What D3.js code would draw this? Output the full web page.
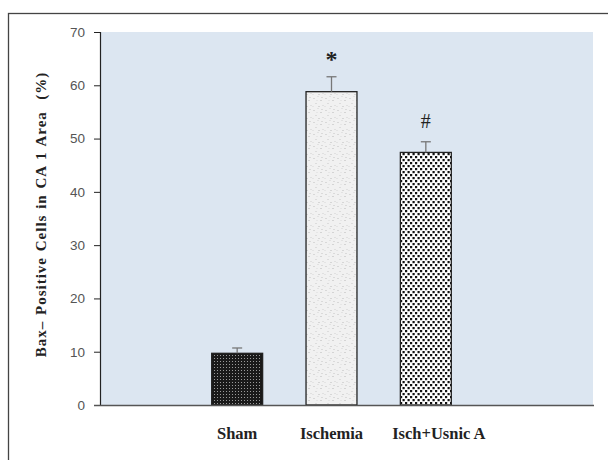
<!DOCTYPE html>
<html><head><meta charset="utf-8">
<script src="https://cdn.jsdelivr.net/npm/d3@7/dist/d3.min.js"></script>
<style>body{margin:0;background:#fff}svg{display:block}</style>
</head><body>
<div id="chart"></div>
<script>
const categories = ["Sham", "Ischemia", "Isch+Usnic A"];
const values = [9.7, 58.8, 47.4];
const errors = [1.0, 2.8, 2.0];
const marks = ["", "*", "#"];
const yTicks = [0, 10, 20, 30, 40, 50, 60, 70];
const yLabel = "Bax\u2013 Positive Cells in CA 1 Area  (%)";

const W = 608, H = 460;
const svg = d3.select("#chart").append("svg").attr("width", W).attr("height", H);
const defs = svg.append("defs");

// Sham: dark with light dot grid
const p1 = defs.append("pattern").attr("id", "pSham").attr("patternUnits", "userSpaceOnUse")
  .attr("width", 3).attr("height", 3);
p1.append("rect").attr("width", 3).attr("height", 3).attr("fill", "#1a1a1a");
p1.append("rect").attr("x", 1).attr("y", 1).attr("width", 1).attr("height", 1).attr("fill", "#9a9a9a");

// Ischemia: light speckled grey
const p2 = defs.append("pattern").attr("id", "pIsch").attr("patternUnits", "userSpaceOnUse")
  .attr("width", 12).attr("height", 12);
p2.append("rect").attr("width", 12).attr("height", 12).attr("fill", "#f1f1f1");
[[1,2,"#d8d8d8"],[5,0,"#e2e2e2"],[8,4,"#d4d4d4"],[3,7,"#dcdcdc"],[10,9,"#e0e0e0"],[6,10,"#d6d6d6"],[0,10,"#e4e4e4"],[9,1,"#dadada"],[4,4,"#e6e6e6"]]
  .forEach(([x,y,c]) => p2.append("rect").attr("x", x).attr("y", y).attr("width", 2).attr("height", 1).attr("fill", c));

// Isch+Usnic: white with staggered black dots
const p3 = defs.append("pattern").attr("id", "pUsn").attr("patternUnits", "userSpaceOnUse")
  .attr("width", 5).attr("height", 6);
p3.append("rect").attr("width", 5).attr("height", 6).attr("fill", "#ffffff");
[[0,0],[2.5,3],[-2.5,3]].forEach(([x,y]) => p3.append("rect").attr("x", x).attr("y", y).attr("width", 2.2).attr("height", 2.2).attr("fill", "#111"));

const fills = ["url(#pSham)", "url(#pIsch)", "url(#pUsn)"];

// outer frame
svg.append("rect").attr("x", 8.5).attr("y", 13.5).attr("width", 620).attr("height", 470)
  .attr("fill", "none").attr("stroke", "#444").attr("stroke-width", 1.3);

const plot = {left: 100, right: 593, top: 32, bottom: 405};

svg.append("rect").attr("x", plot.left).attr("y", plot.top)
  .attr("width", plot.right - plot.left).attr("height", plot.bottom - plot.top)
  .attr("fill", "#dce6f1");

const y = d3.scaleLinear().domain([0, 70]).range([plot.bottom, plot.top]);
const x = d3.scaleBand().domain(categories).range([190, 473]).paddingInner(0.46).paddingOuter(0.23);

// bars
svg.selectAll("rect.bar").data(categories).enter().append("rect").attr("class", "bar")
  .attr("x", d => x(d)).attr("width", x.bandwidth())
  .attr("y", (d, i) => y(values[i])).attr("height", (d, i) => y(0) - y(values[i]))
  .attr("fill", (d, i) => fills[i]).attr("stroke", "#222").attr("stroke-width", 1.3);

// error bars
const eb = svg.append("g").attr("stroke", "#777").attr("stroke-width", 1.3);
categories.forEach((c, i) => {
  const cx = x(c) + x.bandwidth() / 2;
  eb.append("line").attr("x1", cx).attr("x2", cx).attr("y1", y(values[i])).attr("y2", y(values[i] + errors[i]));
  eb.append("line").attr("x1", cx - 5).attr("x2", cx + 5).attr("y1", y(values[i] + errors[i])).attr("y2", y(values[i] + errors[i]));
});

// significance marks
svg.selectAll("text.mark").data(categories).enter().append("text").attr("class", "mark")
  .attr("x", d => x(d) + x.bandwidth() / 2)
  .attr("y", (d, i) => y(values[i] + errors[i]) - (i === 1 ? 10 : 14))
  .attr("text-anchor", "middle")
  .attr("font-family", "Liberation Serif, serif").attr("font-size", (d, i) => i === 1 ? 24 : 20)
  .attr("font-weight", (d, i) => i === 1 ? "bold" : "normal")
  .attr("fill", "#222")
  .text((d, i) => marks[i]);

// y axis
const yAxis = d3.axisLeft(y).tickValues(yTicks).tickSize(6).tickSizeOuter(6).tickPadding(9);
const gy = svg.append("g").attr("transform", `translate(${plot.left},0)`).call(yAxis);
gy.select(".domain").attr("stroke", "#222").attr("stroke-width", 1.2);
gy.selectAll(".tick line").attr("stroke", "#222");
gy.selectAll(".tick text").attr("font-family", "Liberation Sans, Arial, sans-serif")
  .attr("font-size", 13.5).attr("fill", "#555");

// x axis line
svg.append("line").attr("x1", plot.left - 6).attr("x2", plot.right + 1)
  .attr("y1", y(0) + 0.5).attr("y2", y(0) + 0.5).attr("stroke", "#555").attr("stroke-width", 1.6);

// x labels
svg.selectAll("text.xl").data(categories).enter().append("text").attr("class", "xl")
  .attr("x", (d, i) => i === 2 ? x(d) + x.bandwidth() / 2 + 13 : x(d) + x.bandwidth() / 2)
  .attr("y", 439)
  .attr("text-anchor", "middle")
  .attr("font-family", "Liberation Serif, serif").attr("font-weight", "bold").attr("font-size", 16.5)
  .attr("fill", "#222")
  .text(d => d);

// y label
svg.append("text").attr("transform", `translate(46,${(plot.top + plot.bottom) / 2 - 4}) rotate(-90)`)
  .attr("text-anchor", "middle")
  .attr("font-family", "Liberation Serif, serif").attr("font-weight", "bold").attr("font-size", 15)
  .attr("letter-spacing", 1).attr("word-spacing", 1)
  .attr("fill", "#222").attr("xml:space", "preserve").style("white-space", "pre")
  .text(yLabel);
</script>
</body></html>
